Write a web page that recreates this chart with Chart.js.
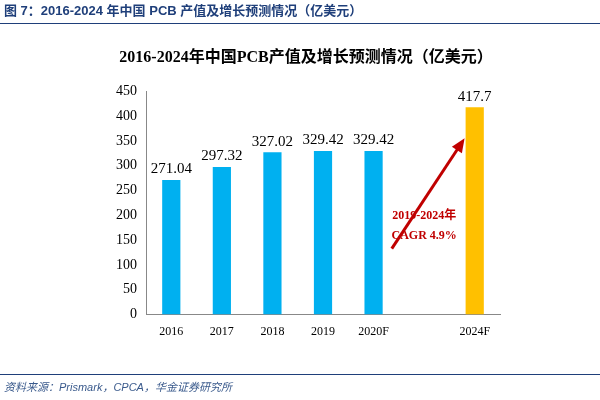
<!DOCTYPE html>
<html><head><meta charset="utf-8">
<script src="https://cdn.jsdelivr.net/npm/chart.js@4"></script>
<style>html,body{margin:0;padding:0;background:#fff}#w{width:600px;height:400px}</style>
</head><body><div id="w"><canvas id="c"></canvas></div>
<script>
const categories = ["2016","2017","2018","2019","2020F","","2024F"];
const values = [271.04,297.32,327.02,329.42,329.42,null,417.7];
const labels = ["271.04","297.32","327.02","329.42","329.42","","417.7"];
const barColors = ["#00B0F0","#00B0F0","#00B0F0","#00B0F0","#00B0F0","#00B0F0","#FFC000"];
const yTicks = [0,50,100,150,200,250,300,350,400,450];
const cagrText = ["2019-2024年","CAGR 4.9%"];
const serif = "'Liberation Serif','Noto Sans CJK SC',serif";
const sans = "'Liberation Sans','Noto Sans CJK SC',sans-serif";
const extra = {
  id:'extra',
  afterDraw(ch){
    const c=ch.ctx,x=ch.scales.x,y=ch.scales.y;
    c.save();
    c.fillStyle="#1F3F7A";c.font="bold 13px "+sans;c.textBaseline="middle";c.textAlign="left";
    c.fillText("图 7：2016-2024 年中国 PCB 产值及增长预测情况（亿美元）",4,11);
    c.strokeStyle="#1F3F7A";c.lineWidth=1;c.beginPath();c.moveTo(0,23.5);c.lineTo(600,23.5);c.stroke();
    c.beginPath();c.moveTo(0,374.5);c.lineTo(600,374.5);c.stroke();
    c.fillStyle="#3A5A8C";c.font="italic 11px "+sans;c.fillText("资料来源：Prismark，CPCA，华金证券研究所",4,388);
    c.fillStyle="#000";c.font="15px "+serif;c.textAlign="center";c.textBaseline="bottom";
    values.forEach((v,i)=>{if(v!=null)c.fillText(labels[i],x.getPixelForValue(i),y.getPixelForValue(v)-3);});
    const x1=x.getPixelForValue(4.36),y1=y.getPixelForValue(133),x2=x.getPixelForValue(5.8),y2=y.getPixelForValue(355);
    c.strokeStyle="#C00000";c.fillStyle="#C00000";c.lineWidth=3;
    const a=Math.atan2(y2-y1,x2-x1);
    c.beginPath();c.moveTo(x1,y1);c.lineTo(x2-10*Math.cos(a),y2-10*Math.sin(a));c.stroke();
    c.beginPath();c.moveTo(x2,y2);c.lineTo(x2-14*Math.cos(a)+6*Math.sin(a),y2-14*Math.sin(a)-6*Math.cos(a));
    c.lineTo(x2-14*Math.cos(a)-6*Math.sin(a),y2-14*Math.sin(a)+6*Math.cos(a));c.closePath();c.fill();
    c.font="bold 12px "+serif;c.textBaseline="middle";c.textAlign="center";
    const tx=x.getPixelForValue(5.0);
    c.fillText(cagrText[0],tx,y.getPixelForValue(199));
    c.fillText(cagrText[1],tx,y.getPixelForValue(158));
    c.restore();
  }
};
new Chart(document.getElementById('c'),{
  type:'bar',
  data:{labels:categories,datasets:[{data:values,backgroundColor:barColors,barPercentage:0.36,categoryPercentage:1}]},
  options:{responsive:true,maintainAspectRatio:false,animation:false,
    layout:{padding:{left:112,right:100,top:48,bottom:51}},
    plugins:{legend:{display:false},tooltip:{enabled:false},
      title:{display:true,text:"2016-2024年中国PCB产值及增长预测情况（亿美元）",color:"#000",font:{family:serif,size:16,weight:'bold'},padding:{top:0,bottom:24}}},
    scales:{
      x:{grid:{display:false,drawTicks:false},border:{color:"#888"},ticks:{color:"#000",font:{family:serif,size:12},padding:10}},
      y:{min:0,max:450,afterBuildTicks:s=>{s.ticks=yTicks.map(v=>({value:v}));},grid:{display:false,drawTicks:true,tickLength:5,tickColor:"#888"},border:{color:"#888"},ticks:{color:"#000",font:{family:serif,size:14},padding:4}}
    }},
  plugins:[extra]
});
</script></body></html>
